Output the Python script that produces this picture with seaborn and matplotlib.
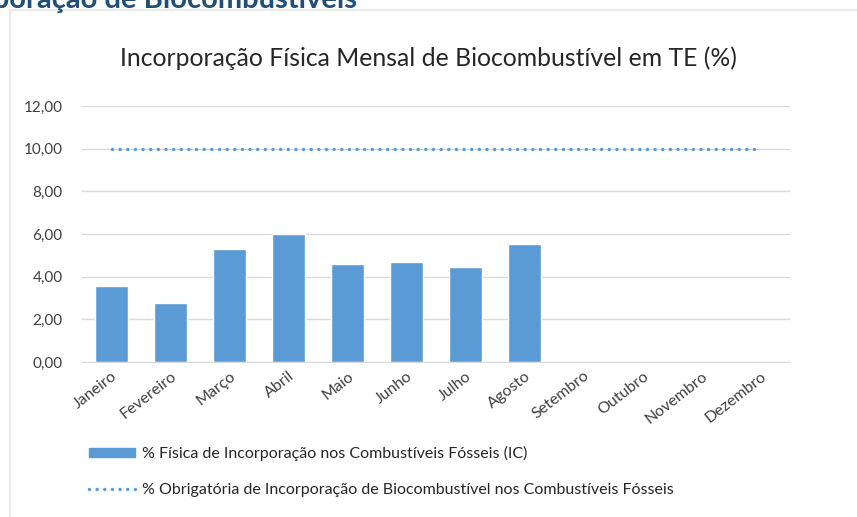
import numpy as np
import pandas as pd
import matplotlib
matplotlib.use("Agg")
import matplotlib.pyplot as plt
from matplotlib.patches import Patch
from matplotlib.lines import Line2D
from matplotlib.ticker import FuncFormatter
import seaborn as sns

months = ["Janeiro", "Fevereiro", "Março", "Abril", "Maio", "Junho", "Julho",
          "Agosto", "Setembro", "Outubro", "Novembro", "Dezembro"]
physical = [3.55, 2.75, 5.30, 6.00, 4.60, 4.70, 4.45, 5.55,
            np.nan, np.nan, np.nan, np.nan]
mandatory = [10.0] * 12
yticks = [0, 2, 4, 6, 8, 10, 12]

title = "Incorporação Física Mensal de Biocombustível em TE (%)"
heading = "Incorporação de Biocombustíveis"
label_bar = "% Física de Incorporação nos Combustíveis Fósseis (IC)"
label_line = "% Obrigatória de Incorporação de Biocombustível nos Combustíveis Fósseis"

sns.set_style("white")
plt.rcParams['font.family'] = ['Lato', 'DejaVu Sans']

blue = "#5B9BD5"
txt = "#404040"
dots = (0, (0.001, 2.2))

df = pd.DataFrame({"mes": months, "valor": physical})

fig = plt.figure(figsize=(8.57, 5.17), dpi=100)
ax = fig.add_axes([0.0957, 0.2998, 0.826, 0.495])

sns.barplot(data=df, x="mes", y="valor", order=months, color=blue,
            saturation=1, width=0.56, ax=ax)
ax.plot(np.arange(len(months)), mandatory, linestyle=dots,
        color=blue, linewidth=2.5, dash_capstyle="round")

ax.set_ylim(0, 12)
ax.set_xlim(-0.5, len(months) - 0.5)
ax.set_yticks(yticks)
ax.yaxis.set_major_formatter(FuncFormatter(lambda v, p: f"{v:.2f}".replace(".", ",")))
ax.grid(axis="y", color="#d9d9d9", linewidth=1)
ax.set_axisbelow(True)
for s in ["top", "right", "left"]:
    ax.spines[s].set_visible(False)
ax.spines["bottom"].set_color("#d9d9d9")
ax.set_xlabel("")
ax.set_ylabel("")
ax.tick_params(axis="y", length=0, pad=14, labelsize=11, labelcolor=txt)
ax.tick_params(axis="x", length=0, pad=5, labelsize=11.5, labelcolor=txt)
plt.setp(ax.get_xticklabels(), rotation=38, ha="right", rotation_mode="anchor")

fig.text(0.5, 0.888, title, ha="center", va="center", fontsize=17.8, color="#262626")

# clipped page heading and frame
fig.text(357 / 857, 1 - 8 / 517, heading, ha="right", va="baseline",
         fontsize=21, fontweight="bold", color="#1F4E79")
fig.add_artist(Line2D([10 / 857, 1], [1 - 10 / 517] * 2, color="#e6e6e6", lw=1.2))
fig.add_artist(Line2D([10 / 857] * 2, [0, 1 - 10 / 517], color="#e6e6e6", lw=1.2))

handles = [Patch(facecolor=blue, edgecolor=blue),
           Line2D([], [], color=blue, linestyle=dots, lw=2.5,
                  dash_capstyle="round")]
leg = fig.legend(handles, [label_bar, label_line], loc="upper left",
                 bbox_to_anchor=(0.087, 0.165), frameon=False, fontsize=11.5,
                 handlelength=2.9, handleheight=0.45, labelspacing=1.35,
                 handletextpad=0.45)
for t in leg.get_texts():
    t.set_color("#262626")

fig.savefig("out.png", dpi=100)
